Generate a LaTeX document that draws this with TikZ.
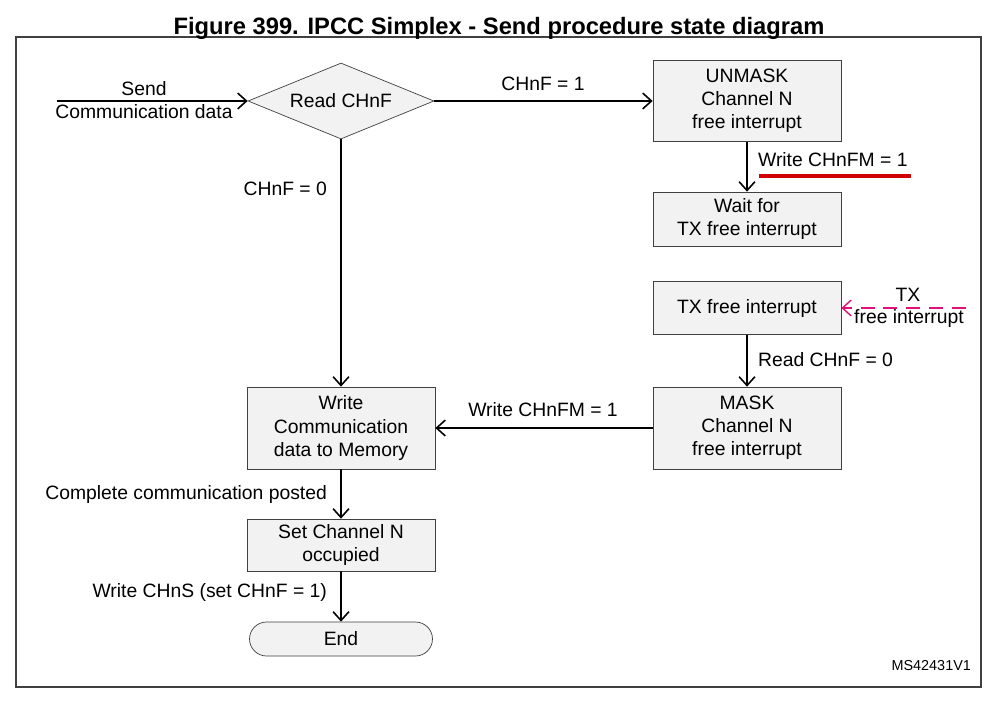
\documentclass[tikz,border=0pt]{standalone}
\usepackage{fontspec}
\setmainfont{Liberation Sans}
\usetikzlibrary{shapes.geometric,shapes.misc,arrows.meta}
\definecolor{boxfill}{HTML}{F2F2F2}
\definecolor{boxline}{HTML}{404040}
\definecolor{irqpink}{HTML}{E0107A}
\definecolor{markred}{HTML}{D00000}

\begin{document}
\begin{tikzpicture}[>={Straight Barb[length=5pt,width=9pt]},
  font=\fontsize{11}{13.2}\selectfont,
  state/.style={draw=boxline,fill=boxfill,minimum width=3.76cm,align=center,inner sep=2pt},
  lbl/.style={inner sep=1pt,align=center},
  flow/.style={->,line width=0.9pt}]

\useasboundingbox (0,0) rectangle (19.98,-14.08);
\draw[boxline,line width=0.6pt] (0.32,-0.74) rectangle (19.62,-13.74);
\node[font=\bfseries\fontsize{13.5}{15}\selectfont] (title) at (9.98,-0.56) {Figure 399. IPCC Simplex - Send procedure state diagram};

\node[draw=boxline,fill=boxfill,diamond,aspect=2.45,inner sep=1pt,minimum width=3.72cm,minimum height=1.52cm] (read) at (6.82,-2.02) {Read CHnF};
\node[state,minimum height=1.62cm] (unmask) at (14.94,-2.02) {UNMASK\\Channel N\\free interrupt};
\node[state,minimum height=1.08cm] (wait) at (14.94,-4.38) {Wait for\\TX free interrupt};
\node[state,minimum height=1.06cm] (txfree) at (14.94,-6.16) {TX free interrupt};
\node[state,minimum height=1.64cm] (mask) at (14.94,-8.56) {MASK\\Channel N\\free interrupt};
\node[state,minimum height=1.64cm] (write) at (6.82,-8.56) {Write\\Communication\\data to Memory};
\node[state,minimum height=1.04cm] (setocc) at (6.82,-10.90) {Set Channel N\\occupied};
\node[state,rounded rectangle,minimum width=3.8cm,minimum height=0.68cm] (done) at (6.82,-12.78) {End};

% entree
\coordinate (start) at (1.14,-2.02);
\draw[flow] (start) -- (read);
\node[lbl] (sendlbl) at (2.88,-1.78) {Send};
\node[lbl] (commlbl) at (2.88,-2.24) {Communication data};

% CHnF = 1
\draw[flow] (read) -- (unmask);
\node[lbl] (one) at (10.86,-1.68) {CHnF = 1};

\draw[flow] (unmask) -- (wait);
\node[lbl,anchor=west] (unmasklbl) at (15.12,-3.20) {Write CHnFM = 1};
\draw[markred,line width=1.8pt] (15.18,-3.52) -- (18.22,-3.52);

% interruption
\coordinate (irq) at (19.32,-6.16);
\draw[->,irqpink,dashed,dash pattern=on 8pt off 5pt,line width=0.8pt] (irq) -- (txfree);
\node[lbl] (txlbl) at (18.16,-5.90) {TX};
\node[lbl] (irqlbl) at (18.18,-6.36) {free interrupt};

\draw[flow] (txfree) -- (mask);
\node[lbl,anchor=west] (zero) at (15.12,-7.20) {Read CHnF = 0};

\draw[flow] (mask) -- (write);
\node[lbl] (masklbl) at (10.86,-8.20) {Write CHnFM = 1};

% CHnF = 0
\draw[flow] (read) -- (write);
\node[lbl,anchor=east] (zerolbl) at (6.58,-3.78) {CHnF = 0};

\draw[flow] (write) -- (setocc);
\node[lbl,anchor=east] (postlbl) at (6.58,-9.88) {Complete communication posted};

\draw[flow] (setocc) -- (done);
\node[lbl,anchor=east] (chnslbl) at (6.58,-11.84) {Write CHnS (set CHnF = 1)};

\node[lbl,anchor=east,font=\fontsize{8.2}{10}\selectfont] (ref) at (19.46,-13.32) {MS42431V1};

\end{tikzpicture}
\end{document}
